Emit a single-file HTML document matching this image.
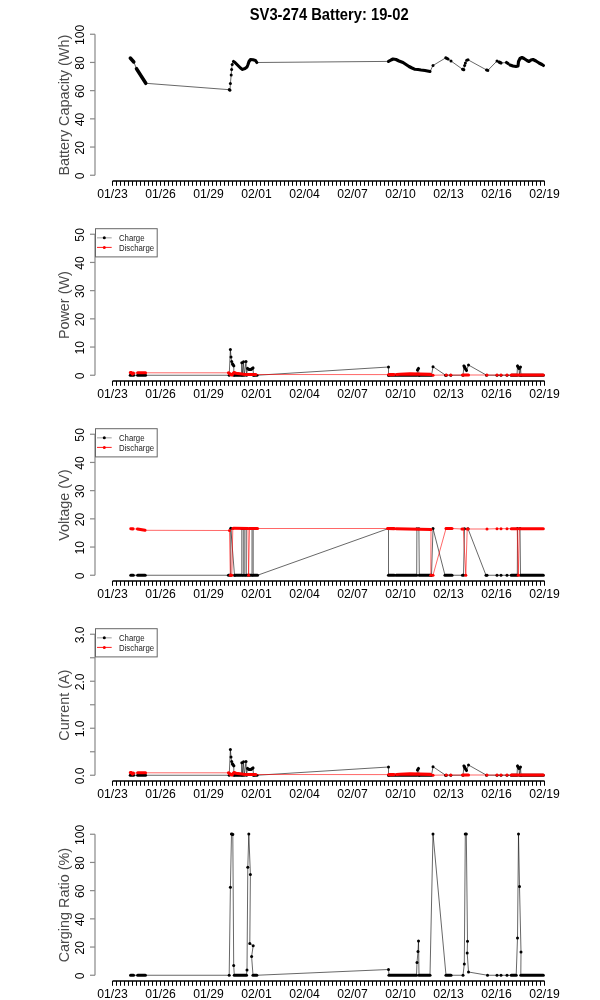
<!DOCTYPE html><html><head><meta charset="utf-8"><style>html,body{margin:0;padding:0;background:#fff;width:600px;height:1000px;overflow:hidden}svg{display:block;will-change:transform}text{font-family:"Liberation Sans",sans-serif}</style></head><body><svg width="600" height="1000" viewBox="0 0 600 1000">
<text transform="translate(329.2 20.0) scale(1 1.07)" text-anchor="middle" font-family="Liberation Sans" font-weight="bold" font-size="14.75" fill="#000">SV3-274 Battery: 19-02</text>
<path d="M95 175.25 V34.25" stroke="#888" stroke-width="1.2" fill="none"/>
<path d="M90 175.25 H95" stroke="#888" stroke-width="1.2" fill="none"/>
<path d="M90 147.05 H95" stroke="#888" stroke-width="1.2" fill="none"/>
<path d="M90 118.85 H95" stroke="#888" stroke-width="1.2" fill="none"/>
<path d="M90 90.65 H95" stroke="#888" stroke-width="1.2" fill="none"/>
<path d="M90 62.45 H95" stroke="#888" stroke-width="1.2" fill="none"/>
<path d="M90 34.25 H95" stroke="#888" stroke-width="1.2" fill="none"/>
<text transform="translate(84.2 175.85) rotate(-90)" text-anchor="middle" font-family="Liberation Sans" font-size="12.2" fill="#000">0</text>
<text transform="translate(84.2 147.65) rotate(-90)" text-anchor="middle" font-family="Liberation Sans" font-size="12.2" fill="#000">20</text>
<text transform="translate(84.2 119.45) rotate(-90)" text-anchor="middle" font-family="Liberation Sans" font-size="12.2" fill="#000">40</text>
<text transform="translate(84.2 91.25) rotate(-90)" text-anchor="middle" font-family="Liberation Sans" font-size="12.2" fill="#000">60</text>
<text transform="translate(84.2 63.05) rotate(-90)" text-anchor="middle" font-family="Liberation Sans" font-size="12.2" fill="#000">80</text>
<text transform="translate(84.2 34.85) rotate(-90)" text-anchor="middle" font-family="Liberation Sans" font-size="12.2" fill="#000">100</text>
<text transform="translate(68.8 105.15) rotate(-90) scale(1 1.08)" text-anchor="middle" font-family="Liberation Sans" font-size="14.4" fill="#4a4a4a">Battery Capacity (Wh)</text>
<path d="M112.5 181 H544.5" stroke="#000" stroke-width="1.5" fill="none"/>
<path d="M112.5 181 V185.8M116.5 181 V185.8M120.5 181 V185.8M124.5 181 V185.8M128.5 181 V185.8M132.5 181 V185.8M136.5 181 V185.8M140.5 181 V185.8M144.5 181 V185.8M148.5 181 V185.8M152.5 181 V185.8M156.5 181 V185.8M160.5 181 V185.8M164.5 181 V185.8M168.5 181 V185.8M172.5 181 V185.8M176.5 181 V185.8M180.5 181 V185.8M184.5 181 V185.8M188.5 181 V185.8M192.5 181 V185.8M196.5 181 V185.8M200.5 181 V185.8M204.5 181 V185.8M208.5 181 V185.8M212.5 181 V185.8M216.5 181 V185.8M220.5 181 V185.8M224.5 181 V185.8M228.5 181 V185.8M232.5 181 V185.8M236.5 181 V185.8M240.5 181 V185.8M244.5 181 V185.8M248.5 181 V185.8M252.5 181 V185.8M256.5 181 V185.8M260.5 181 V185.8M264.5 181 V185.8M268.5 181 V185.8M272.5 181 V185.8M276.5 181 V185.8M280.5 181 V185.8M284.5 181 V185.8M288.5 181 V185.8M292.5 181 V185.8M296.5 181 V185.8M300.5 181 V185.8M304.5 181 V185.8M308.5 181 V185.8M312.5 181 V185.8M316.5 181 V185.8M320.5 181 V185.8M324.5 181 V185.8M328.5 181 V185.8M332.5 181 V185.8M336.5 181 V185.8M340.5 181 V185.8M344.5 181 V185.8M348.5 181 V185.8M352.5 181 V185.8M356.5 181 V185.8M360.5 181 V185.8M364.5 181 V185.8M368.5 181 V185.8M372.5 181 V185.8M376.5 181 V185.8M380.5 181 V185.8M384.5 181 V185.8M388.5 181 V185.8M392.5 181 V185.8M396.5 181 V185.8M400.5 181 V185.8M404.5 181 V185.8M408.5 181 V185.8M412.5 181 V185.8M416.5 181 V185.8M420.5 181 V185.8M424.5 181 V185.8M428.5 181 V185.8M432.5 181 V185.8M436.5 181 V185.8M440.5 181 V185.8M444.5 181 V185.8M448.5 181 V185.8M452.5 181 V185.8M456.5 181 V185.8M460.5 181 V185.8M464.5 181 V185.8M468.5 181 V185.8M472.5 181 V185.8M476.5 181 V185.8M480.5 181 V185.8M484.5 181 V185.8M488.5 181 V185.8M492.5 181 V185.8M496.5 181 V185.8M500.5 181 V185.8M504.5 181 V185.8M508.5 181 V185.8M512.5 181 V185.8M516.5 181 V185.8M520.5 181 V185.8M524.5 181 V185.8M528.5 181 V185.8M532.5 181 V185.8M536.5 181 V185.8M540.5 181 V185.8M544.5 181 V185.8" stroke="#000" stroke-width="1" fill="none"/>
<text x="112.5" y="198" text-anchor="middle" font-family="Liberation Sans" font-size="12.2" fill="#000">01/23</text>
<text x="160.5" y="198" text-anchor="middle" font-family="Liberation Sans" font-size="12.2" fill="#000">01/26</text>
<text x="208.5" y="198" text-anchor="middle" font-family="Liberation Sans" font-size="12.2" fill="#000">01/29</text>
<text x="256.5" y="198" text-anchor="middle" font-family="Liberation Sans" font-size="12.2" fill="#000">02/01</text>
<text x="304.5" y="198" text-anchor="middle" font-family="Liberation Sans" font-size="12.2" fill="#000">02/04</text>
<text x="352.5" y="198" text-anchor="middle" font-family="Liberation Sans" font-size="12.2" fill="#000">02/07</text>
<text x="400.5" y="198" text-anchor="middle" font-family="Liberation Sans" font-size="12.2" fill="#000">02/10</text>
<text x="448.5" y="198" text-anchor="middle" font-family="Liberation Sans" font-size="12.2" fill="#000">02/13</text>
<text x="496.5" y="198" text-anchor="middle" font-family="Liberation Sans" font-size="12.2" fill="#000">02/16</text>
<text x="544.5" y="198" text-anchor="middle" font-family="Liberation Sans" font-size="12.2" fill="#000">02/19</text>
<path d="M130.30 58.00 L133.80 62.00 L136.50 68.70 L145.80 83.30 L229.30 89.70 L230.00 90.20 L230.40 83.60 L231.20 74.90 L231.60 69.50 L232.20 64.60 L233.50 61.50 L235.00 62.50 L238.00 65.50 L240.50 68.00 L242.50 69.40 L245.00 68.50 L247.00 67.00 L248.00 64.50 L249.00 61.50 L250.50 59.50 L253.00 59.80 L255.50 60.50 L256.80 62.50 L388.50 61.40 L391.00 60.00 L393.00 59.00 L396.00 59.50 L399.00 61.00 L403.00 62.50 L406.00 64.50 L409.00 66.50 L412.00 68.00 L415.00 69.30 L418.00 69.50 L421.00 70.00 L425.00 70.50 L430.00 71.50 L433.00 65.50 L445.80 57.80 L448.00 59.00 L451.00 61.00 L462.60 69.30 L463.80 69.70 L464.60 65.40 L465.40 62.90 L466.70 60.20 L468.00 59.80 L486.60 70.00 L487.80 70.40 L497.00 61.00 L499.00 62.00 L501.00 63.00 L506.50 62.50 L508.00 63.50 L510.00 65.00 L513.00 66.00 L516.00 66.50 L518.00 66.00 L518.50 61.50 L520.00 58.50 L522.00 57.50 L524.00 58.50 L527.00 60.50 L529.00 61.50 L531.00 60.00 L533.00 59.50 L536.00 61.00 L539.00 63.00 L542.00 64.50 L543.50 65.50" stroke="#000" stroke-width="0.6" fill="none"/>
<path d="M130.30 58.00 L133.80 62.00" stroke="#000" stroke-width="3.5" stroke-linecap="round" stroke-linejoin="round" fill="none"/>
<path d="M136.50 68.70 L145.80 83.30" stroke="#000" stroke-width="3.5" stroke-linecap="round" stroke-linejoin="round" fill="none"/>
<path d="M229.30 89.70 L230.00 90.20" stroke="#000" stroke-width="3.1" stroke-linecap="round" stroke-linejoin="round" fill="none"/>
<path d="M233.50 61.50 L235.00 62.50 L238.00 65.50 L240.50 68.00 L242.50 69.40 L245.00 68.50 L247.00 67.00 L248.00 64.50 L249.00 61.50 L250.50 59.50 L253.00 59.80 L255.50 60.50 L256.80 62.50" stroke="#000" stroke-width="3.1" stroke-linecap="round" stroke-linejoin="round" fill="none"/>
<path d="M388.50 61.40 L391.00 60.00 L393.00 59.00 L396.00 59.50 L399.00 61.00 L403.00 62.50 L406.00 64.50 L409.00 66.50 L412.00 68.00 L415.00 69.30 L418.00 69.50 L421.00 70.00 L425.00 70.50 L430.00 71.50" stroke="#000" stroke-width="3.1" stroke-linecap="round" stroke-linejoin="round" fill="none"/>
<path d="M445.80 57.80 L448.00 59.00" stroke="#000" stroke-width="3.1" stroke-linecap="round" stroke-linejoin="round" fill="none"/>
<path d="M462.60 69.30 L463.80 69.70" stroke="#000" stroke-width="3.1" stroke-linecap="round" stroke-linejoin="round" fill="none"/>
<path d="M486.60 70.00 L487.80 70.40" stroke="#000" stroke-width="3.1" stroke-linecap="round" stroke-linejoin="round" fill="none"/>
<path d="M499.00 62.00 L501.00 63.00" stroke="#000" stroke-width="3.1" stroke-linecap="round" stroke-linejoin="round" fill="none"/>
<path d="M506.50 62.50 L508.00 63.50" stroke="#000" stroke-width="3.1" stroke-linecap="round" stroke-linejoin="round" fill="none"/>
<path d="M510.00 65.00 L513.00 66.00 L516.00 66.50 L518.00 66.00 L518.50 61.50 L520.00 58.50 L522.00 57.50 L524.00 58.50 L527.00 60.50 L529.00 61.50 L531.00 60.00 L533.00 59.50 L536.00 61.00 L539.00 63.00 L542.00 64.50 L543.50 65.50" stroke="#000" stroke-width="3.1" stroke-linecap="round" stroke-linejoin="round" fill="none"/>
<circle cx="230.40" cy="83.60" r="1.5" fill="#000"/><circle cx="231.20" cy="74.90" r="1.5" fill="#000"/><circle cx="231.60" cy="69.50" r="1.5" fill="#000"/><circle cx="232.20" cy="64.60" r="1.5" fill="#000"/><circle cx="433.00" cy="65.50" r="1.5" fill="#000"/><circle cx="451.00" cy="61.00" r="1.5" fill="#000"/><circle cx="464.60" cy="65.40" r="1.5" fill="#000"/><circle cx="465.40" cy="62.90" r="1.5" fill="#000"/><circle cx="466.70" cy="60.20" r="1.5" fill="#000"/><circle cx="468.00" cy="59.80" r="1.5" fill="#000"/><circle cx="497.00" cy="61.00" r="1.5" fill="#000"/>
<path d="M95 375.25 V234.25" stroke="#888" stroke-width="1.2" fill="none"/>
<path d="M90 375.25 H95" stroke="#888" stroke-width="1.2" fill="none"/>
<path d="M90 347.05 H95" stroke="#888" stroke-width="1.2" fill="none"/>
<path d="M90 318.85 H95" stroke="#888" stroke-width="1.2" fill="none"/>
<path d="M90 290.65 H95" stroke="#888" stroke-width="1.2" fill="none"/>
<path d="M90 262.45 H95" stroke="#888" stroke-width="1.2" fill="none"/>
<path d="M90 234.25 H95" stroke="#888" stroke-width="1.2" fill="none"/>
<text transform="translate(84.2 375.85) rotate(-90)" text-anchor="middle" font-family="Liberation Sans" font-size="12.2" fill="#000">0</text>
<text transform="translate(84.2 347.65) rotate(-90)" text-anchor="middle" font-family="Liberation Sans" font-size="12.2" fill="#000">10</text>
<text transform="translate(84.2 319.45) rotate(-90)" text-anchor="middle" font-family="Liberation Sans" font-size="12.2" fill="#000">20</text>
<text transform="translate(84.2 291.25) rotate(-90)" text-anchor="middle" font-family="Liberation Sans" font-size="12.2" fill="#000">30</text>
<text transform="translate(84.2 263.05) rotate(-90)" text-anchor="middle" font-family="Liberation Sans" font-size="12.2" fill="#000">40</text>
<text transform="translate(84.2 234.85) rotate(-90)" text-anchor="middle" font-family="Liberation Sans" font-size="12.2" fill="#000">50</text>
<text transform="translate(68.8 305.15) rotate(-90) scale(1 1.08)" text-anchor="middle" font-family="Liberation Sans" font-size="14.4" fill="#4a4a4a">Power (W)</text>
<path d="M112.5 381 H544.5" stroke="#000" stroke-width="1.5" fill="none"/>
<path d="M112.5 381 V385.8M116.5 381 V385.8M120.5 381 V385.8M124.5 381 V385.8M128.5 381 V385.8M132.5 381 V385.8M136.5 381 V385.8M140.5 381 V385.8M144.5 381 V385.8M148.5 381 V385.8M152.5 381 V385.8M156.5 381 V385.8M160.5 381 V385.8M164.5 381 V385.8M168.5 381 V385.8M172.5 381 V385.8M176.5 381 V385.8M180.5 381 V385.8M184.5 381 V385.8M188.5 381 V385.8M192.5 381 V385.8M196.5 381 V385.8M200.5 381 V385.8M204.5 381 V385.8M208.5 381 V385.8M212.5 381 V385.8M216.5 381 V385.8M220.5 381 V385.8M224.5 381 V385.8M228.5 381 V385.8M232.5 381 V385.8M236.5 381 V385.8M240.5 381 V385.8M244.5 381 V385.8M248.5 381 V385.8M252.5 381 V385.8M256.5 381 V385.8M260.5 381 V385.8M264.5 381 V385.8M268.5 381 V385.8M272.5 381 V385.8M276.5 381 V385.8M280.5 381 V385.8M284.5 381 V385.8M288.5 381 V385.8M292.5 381 V385.8M296.5 381 V385.8M300.5 381 V385.8M304.5 381 V385.8M308.5 381 V385.8M312.5 381 V385.8M316.5 381 V385.8M320.5 381 V385.8M324.5 381 V385.8M328.5 381 V385.8M332.5 381 V385.8M336.5 381 V385.8M340.5 381 V385.8M344.5 381 V385.8M348.5 381 V385.8M352.5 381 V385.8M356.5 381 V385.8M360.5 381 V385.8M364.5 381 V385.8M368.5 381 V385.8M372.5 381 V385.8M376.5 381 V385.8M380.5 381 V385.8M384.5 381 V385.8M388.5 381 V385.8M392.5 381 V385.8M396.5 381 V385.8M400.5 381 V385.8M404.5 381 V385.8M408.5 381 V385.8M412.5 381 V385.8M416.5 381 V385.8M420.5 381 V385.8M424.5 381 V385.8M428.5 381 V385.8M432.5 381 V385.8M436.5 381 V385.8M440.5 381 V385.8M444.5 381 V385.8M448.5 381 V385.8M452.5 381 V385.8M456.5 381 V385.8M460.5 381 V385.8M464.5 381 V385.8M468.5 381 V385.8M472.5 381 V385.8M476.5 381 V385.8M480.5 381 V385.8M484.5 381 V385.8M488.5 381 V385.8M492.5 381 V385.8M496.5 381 V385.8M500.5 381 V385.8M504.5 381 V385.8M508.5 381 V385.8M512.5 381 V385.8M516.5 381 V385.8M520.5 381 V385.8M524.5 381 V385.8M528.5 381 V385.8M532.5 381 V385.8M536.5 381 V385.8M540.5 381 V385.8M544.5 381 V385.8" stroke="#000" stroke-width="1" fill="none"/>
<text x="112.5" y="398" text-anchor="middle" font-family="Liberation Sans" font-size="12.2" fill="#000">01/23</text>
<text x="160.5" y="398" text-anchor="middle" font-family="Liberation Sans" font-size="12.2" fill="#000">01/26</text>
<text x="208.5" y="398" text-anchor="middle" font-family="Liberation Sans" font-size="12.2" fill="#000">01/29</text>
<text x="256.5" y="398" text-anchor="middle" font-family="Liberation Sans" font-size="12.2" fill="#000">02/01</text>
<text x="304.5" y="398" text-anchor="middle" font-family="Liberation Sans" font-size="12.2" fill="#000">02/04</text>
<text x="352.5" y="398" text-anchor="middle" font-family="Liberation Sans" font-size="12.2" fill="#000">02/07</text>
<text x="400.5" y="398" text-anchor="middle" font-family="Liberation Sans" font-size="12.2" fill="#000">02/10</text>
<text x="448.5" y="398" text-anchor="middle" font-family="Liberation Sans" font-size="12.2" fill="#000">02/13</text>
<text x="496.5" y="398" text-anchor="middle" font-family="Liberation Sans" font-size="12.2" fill="#000">02/16</text>
<text x="544.5" y="398" text-anchor="middle" font-family="Liberation Sans" font-size="12.2" fill="#000">02/19</text>
<path d="M130.30 375.25 L133.50 375.25 L137.70 375.25 L145.50 375.25 L229.20 375.25 L230.40 349.40 L231.00 357.00 L231.70 361.50 L232.50 364.00 L233.80 365.80 L233.80 375.25 L235.00 375.25 L241.50 375.25 L241.80 362.80 L242.50 375.25 L243.50 361.80 L244.20 375.25 L246.00 361.50 L246.50 375.25 L247.50 368.50 L249.00 369.50 L251.00 369.50 L253.00 368.00 L253.50 375.25 L254.00 375.25 L257.00 375.25 L388.50 367.00 L388.50 375.25 L389.00 375.25 L417.00 375.25 L417.50 370.00 L418.50 368.50 L419.00 375.25 L419.50 375.25 L431.50 375.25 L433.00 366.70 L445.50 375.20 L446.30 375.25 L450.80 375.25 L463.00 375.25 L464.00 366.00 L465.00 368.00 L466.50 370.50 L468.50 365.00 L486.50 375.20 L497.00 375.25 L501.00 375.25 L507.00 375.25 L511.30 375.25 L517.00 375.25 L517.50 366.00 L519.00 368.50 L519.50 375.25 L520.50 367.00 L521.00 375.25 L521.50 375.25 L543.30 375.25" stroke="#000" stroke-width="0.6" fill="none"/>
<path d="M130.30 375.25 L133.50 375.25" stroke="#000" stroke-width="3.1" stroke-linecap="round" stroke-linejoin="round" fill="none"/>
<path d="M137.70 375.25 L145.50 375.25" stroke="#000" stroke-width="3.1" stroke-linecap="round" stroke-linejoin="round" fill="none"/>
<path d="M232.50 364.00 L233.80 365.80" stroke="#000" stroke-width="3.1" stroke-linecap="round" stroke-linejoin="round" fill="none"/>
<path d="M235.00 375.25 L241.50 375.25" stroke="#000" stroke-width="3.1" stroke-linecap="round" stroke-linejoin="round" fill="none"/>
<path d="M247.50 368.50 L249.00 369.50 L251.00 369.50 L253.00 368.00" stroke="#000" stroke-width="3.1" stroke-linecap="round" stroke-linejoin="round" fill="none"/>
<path d="M254.00 375.25 L257.00 375.25" stroke="#000" stroke-width="3.1" stroke-linecap="round" stroke-linejoin="round" fill="none"/>
<path d="M389.00 375.25 L417.00 375.25" stroke="#000" stroke-width="3.1" stroke-linecap="round" stroke-linejoin="round" fill="none"/>
<path d="M417.50 370.00 L418.50 368.50" stroke="#000" stroke-width="3.1" stroke-linecap="round" stroke-linejoin="round" fill="none"/>
<path d="M419.50 375.25 L431.50 375.25" stroke="#000" stroke-width="3.1" stroke-linecap="round" stroke-linejoin="round" fill="none"/>
<path d="M464.00 366.00 L465.00 368.00 L466.50 370.50" stroke="#000" stroke-width="3.1" stroke-linecap="round" stroke-linejoin="round" fill="none"/>
<path d="M511.30 375.25 L517.00 375.25" stroke="#000" stroke-width="3.1" stroke-linecap="round" stroke-linejoin="round" fill="none"/>
<path d="M517.50 366.00 L519.00 368.50" stroke="#000" stroke-width="3.1" stroke-linecap="round" stroke-linejoin="round" fill="none"/>
<path d="M521.50 375.25 L543.30 375.25" stroke="#000" stroke-width="3.1" stroke-linecap="round" stroke-linejoin="round" fill="none"/>
<circle cx="229.20" cy="375.25" r="1.5" fill="#000"/><circle cx="230.40" cy="349.40" r="1.5" fill="#000"/><circle cx="231.00" cy="357.00" r="1.5" fill="#000"/><circle cx="231.70" cy="361.50" r="1.5" fill="#000"/><circle cx="233.80" cy="375.25" r="1.5" fill="#000"/><circle cx="241.80" cy="362.80" r="1.5" fill="#000"/><circle cx="242.50" cy="375.25" r="1.5" fill="#000"/><circle cx="243.50" cy="361.80" r="1.5" fill="#000"/><circle cx="244.20" cy="375.25" r="1.5" fill="#000"/><circle cx="246.00" cy="361.50" r="1.5" fill="#000"/><circle cx="246.50" cy="375.25" r="1.5" fill="#000"/><circle cx="253.50" cy="375.25" r="1.5" fill="#000"/><circle cx="388.50" cy="367.00" r="1.5" fill="#000"/><circle cx="388.50" cy="375.25" r="1.5" fill="#000"/><circle cx="419.00" cy="375.25" r="1.5" fill="#000"/><circle cx="433.00" cy="366.70" r="1.5" fill="#000"/><circle cx="445.50" cy="375.20" r="1.5" fill="#000"/><circle cx="446.30" cy="375.25" r="1.5" fill="#000"/><circle cx="450.80" cy="375.25" r="1.5" fill="#000"/><circle cx="463.00" cy="375.25" r="1.5" fill="#000"/><circle cx="468.50" cy="365.00" r="1.5" fill="#000"/><circle cx="486.50" cy="375.20" r="1.5" fill="#000"/><circle cx="497.00" cy="375.25" r="1.5" fill="#000"/><circle cx="501.00" cy="375.25" r="1.5" fill="#000"/><circle cx="507.00" cy="375.25" r="1.5" fill="#000"/><circle cx="519.50" cy="375.25" r="1.5" fill="#000"/><circle cx="520.50" cy="367.00" r="1.5" fill="#000"/><circle cx="521.00" cy="375.25" r="1.5" fill="#000"/>
<path d="M130.30 372.60 L131.50 372.60 L132.50 374.00 L133.50 373.20 L137.70 372.80 L145.50 372.80 L228.50 372.80 L230.00 374.00 L232.00 375.00 L234.00 372.50 L236.00 373.20 L240.00 373.80 L245.00 374.50 L250.00 374.50 L255.70 374.50 L388.80 374.60 L394.00 374.60 L396.50 374.50 L400.00 374.30 L410.00 373.90 L420.00 374.10 L430.50 374.40 L433.00 375.20 L446.30 375.00 L450.80 375.00 L462.50 375.00 L468.50 375.00 L487.00 375.00 L497.00 375.00 L501.00 375.00 L507.00 375.00 L511.30 375.00 L543.30 375.00" stroke="#f00" stroke-width="0.6" fill="none"/>
<path d="M130.30 372.60 L131.50 372.60 L132.50 374.00 L133.50 373.20" stroke="#f00" stroke-width="3.1" stroke-linecap="round" stroke-linejoin="round" fill="none"/>
<path d="M137.70 372.80 L145.50 372.80" stroke="#f00" stroke-width="3.1" stroke-linecap="round" stroke-linejoin="round" fill="none"/>
<path d="M228.50 372.80 L230.00 374.00 L232.00 375.00 L234.00 372.50 L236.00 373.20 L240.00 373.80 L245.00 374.50 L250.00 374.50 L255.70 374.50" stroke="#f00" stroke-width="3.1" stroke-linecap="round" stroke-linejoin="round" fill="none"/>
<path d="M388.80 374.60 L394.00 374.60" stroke="#f00" stroke-width="3.1" stroke-linecap="round" stroke-linejoin="round" fill="none"/>
<path d="M396.50 374.50 L400.00 374.30 L410.00 373.90 L420.00 374.10 L430.50 374.40" stroke="#f00" stroke-width="3.1" stroke-linecap="round" stroke-linejoin="round" fill="none"/>
<path d="M462.50 375.00 L468.50 375.00" stroke="#f00" stroke-width="3.1" stroke-linecap="round" stroke-linejoin="round" fill="none"/>
<path d="M511.30 375.00 L543.30 375.00" stroke="#f00" stroke-width="3.1" stroke-linecap="round" stroke-linejoin="round" fill="none"/>
<circle cx="433.00" cy="375.20" r="1.5" fill="#f00"/><circle cx="446.30" cy="375.00" r="1.5" fill="#f00"/><circle cx="450.80" cy="375.00" r="1.5" fill="#f00"/><circle cx="487.00" cy="375.00" r="1.5" fill="#f00"/><circle cx="497.00" cy="375.00" r="1.5" fill="#f00"/><circle cx="501.00" cy="375.00" r="1.5" fill="#f00"/><circle cx="507.00" cy="375.00" r="1.5" fill="#f00"/>
<rect x="95.5" y="228.7" width="61.7" height="28.2" fill="#fff" stroke="#666" stroke-width="1"/>
<path d="M97 237.85 H111.7" stroke="#000" stroke-width="0.7" stroke-opacity="0.55" fill="none"/>
<circle cx="104.3" cy="237.85" r="1.5" fill="#000"/>
<path d="M97 247.4 H111.7" stroke="#f00" stroke-width="0.9" fill="none"/>
<circle cx="104.3" cy="247.4" r="1.5" fill="#f00"/>
<text transform="translate(119 240.9) scale(1 1.12)" font-family="Liberation Sans" font-size="7.8" fill="#222">Charge</text>
<text transform="translate(119 250.8) scale(1 1.12)" font-family="Liberation Sans" font-size="7.8" fill="#222">Discharge</text>
<path d="M95 575.25 V434.25" stroke="#888" stroke-width="1.2" fill="none"/>
<path d="M90 575.25 H95" stroke="#888" stroke-width="1.2" fill="none"/>
<path d="M90 547.05 H95" stroke="#888" stroke-width="1.2" fill="none"/>
<path d="M90 518.85 H95" stroke="#888" stroke-width="1.2" fill="none"/>
<path d="M90 490.65 H95" stroke="#888" stroke-width="1.2" fill="none"/>
<path d="M90 462.45 H95" stroke="#888" stroke-width="1.2" fill="none"/>
<path d="M90 434.25 H95" stroke="#888" stroke-width="1.2" fill="none"/>
<text transform="translate(84.2 575.85) rotate(-90)" text-anchor="middle" font-family="Liberation Sans" font-size="12.2" fill="#000">0</text>
<text transform="translate(84.2 547.65) rotate(-90)" text-anchor="middle" font-family="Liberation Sans" font-size="12.2" fill="#000">10</text>
<text transform="translate(84.2 519.45) rotate(-90)" text-anchor="middle" font-family="Liberation Sans" font-size="12.2" fill="#000">20</text>
<text transform="translate(84.2 491.25) rotate(-90)" text-anchor="middle" font-family="Liberation Sans" font-size="12.2" fill="#000">30</text>
<text transform="translate(84.2 463.05) rotate(-90)" text-anchor="middle" font-family="Liberation Sans" font-size="12.2" fill="#000">40</text>
<text transform="translate(84.2 434.85) rotate(-90)" text-anchor="middle" font-family="Liberation Sans" font-size="12.2" fill="#000">50</text>
<text transform="translate(68.8 505.15) rotate(-90) scale(1 1.08)" text-anchor="middle" font-family="Liberation Sans" font-size="14.4" fill="#4a4a4a">Voltage (V)</text>
<path d="M112.5 581 H544.5" stroke="#000" stroke-width="1.5" fill="none"/>
<path d="M112.5 581 V585.8M116.5 581 V585.8M120.5 581 V585.8M124.5 581 V585.8M128.5 581 V585.8M132.5 581 V585.8M136.5 581 V585.8M140.5 581 V585.8M144.5 581 V585.8M148.5 581 V585.8M152.5 581 V585.8M156.5 581 V585.8M160.5 581 V585.8M164.5 581 V585.8M168.5 581 V585.8M172.5 581 V585.8M176.5 581 V585.8M180.5 581 V585.8M184.5 581 V585.8M188.5 581 V585.8M192.5 581 V585.8M196.5 581 V585.8M200.5 581 V585.8M204.5 581 V585.8M208.5 581 V585.8M212.5 581 V585.8M216.5 581 V585.8M220.5 581 V585.8M224.5 581 V585.8M228.5 581 V585.8M232.5 581 V585.8M236.5 581 V585.8M240.5 581 V585.8M244.5 581 V585.8M248.5 581 V585.8M252.5 581 V585.8M256.5 581 V585.8M260.5 581 V585.8M264.5 581 V585.8M268.5 581 V585.8M272.5 581 V585.8M276.5 581 V585.8M280.5 581 V585.8M284.5 581 V585.8M288.5 581 V585.8M292.5 581 V585.8M296.5 581 V585.8M300.5 581 V585.8M304.5 581 V585.8M308.5 581 V585.8M312.5 581 V585.8M316.5 581 V585.8M320.5 581 V585.8M324.5 581 V585.8M328.5 581 V585.8M332.5 581 V585.8M336.5 581 V585.8M340.5 581 V585.8M344.5 581 V585.8M348.5 581 V585.8M352.5 581 V585.8M356.5 581 V585.8M360.5 581 V585.8M364.5 581 V585.8M368.5 581 V585.8M372.5 581 V585.8M376.5 581 V585.8M380.5 581 V585.8M384.5 581 V585.8M388.5 581 V585.8M392.5 581 V585.8M396.5 581 V585.8M400.5 581 V585.8M404.5 581 V585.8M408.5 581 V585.8M412.5 581 V585.8M416.5 581 V585.8M420.5 581 V585.8M424.5 581 V585.8M428.5 581 V585.8M432.5 581 V585.8M436.5 581 V585.8M440.5 581 V585.8M444.5 581 V585.8M448.5 581 V585.8M452.5 581 V585.8M456.5 581 V585.8M460.5 581 V585.8M464.5 581 V585.8M468.5 581 V585.8M472.5 581 V585.8M476.5 581 V585.8M480.5 581 V585.8M484.5 581 V585.8M488.5 581 V585.8M492.5 581 V585.8M496.5 581 V585.8M500.5 581 V585.8M504.5 581 V585.8M508.5 581 V585.8M512.5 581 V585.8M516.5 581 V585.8M520.5 581 V585.8M524.5 581 V585.8M528.5 581 V585.8M532.5 581 V585.8M536.5 581 V585.8M540.5 581 V585.8M544.5 581 V585.8" stroke="#000" stroke-width="1" fill="none"/>
<text x="112.5" y="598" text-anchor="middle" font-family="Liberation Sans" font-size="12.2" fill="#000">01/23</text>
<text x="160.5" y="598" text-anchor="middle" font-family="Liberation Sans" font-size="12.2" fill="#000">01/26</text>
<text x="208.5" y="598" text-anchor="middle" font-family="Liberation Sans" font-size="12.2" fill="#000">01/29</text>
<text x="256.5" y="598" text-anchor="middle" font-family="Liberation Sans" font-size="12.2" fill="#000">02/01</text>
<text x="304.5" y="598" text-anchor="middle" font-family="Liberation Sans" font-size="12.2" fill="#000">02/04</text>
<text x="352.5" y="598" text-anchor="middle" font-family="Liberation Sans" font-size="12.2" fill="#000">02/07</text>
<text x="400.5" y="598" text-anchor="middle" font-family="Liberation Sans" font-size="12.2" fill="#000">02/10</text>
<text x="448.5" y="598" text-anchor="middle" font-family="Liberation Sans" font-size="12.2" fill="#000">02/13</text>
<text x="496.5" y="598" text-anchor="middle" font-family="Liberation Sans" font-size="12.2" fill="#000">02/16</text>
<text x="544.5" y="598" text-anchor="middle" font-family="Liberation Sans" font-size="12.2" fill="#000">02/19</text>
<path d="M130.80 575.25 L133.30 575.25 L137.70 575.25 L145.20 575.25 L228.50 575.25 L230.70 575.25 L230.80 528.30 L234.50 575.25 L235.00 575.25 L241.80 575.25 L241.80 528.50 L243.30 528.50 L243.30 575.25 L244.80 575.25 L244.80 528.50 L246.30 528.50 L246.30 575.25 L252.00 575.25 L252.00 528.50 L253.20 528.50 L253.20 575.25 L257.50 575.25 L388.50 528.50 L388.50 575.25 L394.30 575.25 L396.20 575.25 L416.70 575.25 L416.90 528.80 L418.90 528.80 L419.30 575.25 L431.00 575.25 L431.50 575.25 L433.00 528.50 L445.00 575.25 L452.00 575.25 L462.50 575.25 L463.50 575.25 L464.50 528.80 L468.00 528.80 L486.00 575.25 L487.00 575.25 L497.00 575.25 L501.00 575.25 L507.00 575.25 L511.30 575.25 L517.30 575.25 L517.50 528.50 L520.00 528.50 L520.50 575.25 L543.30 575.25" stroke="#000" stroke-width="0.6" fill="none"/>
<path d="M130.80 575.25 L133.30 575.25" stroke="#000" stroke-width="3.1" stroke-linecap="round" stroke-linejoin="round" fill="none"/>
<path d="M137.70 575.25 L145.20 575.25" stroke="#000" stroke-width="3.1" stroke-linecap="round" stroke-linejoin="round" fill="none"/>
<path d="M228.50 575.25 L230.70 575.25" stroke="#000" stroke-width="3.1" stroke-linecap="round" stroke-linejoin="round" fill="none"/>
<path d="M235.00 575.25 L241.80 575.25" stroke="#000" stroke-width="3.1" stroke-linecap="round" stroke-linejoin="round" fill="none"/>
<path d="M246.30 575.25 L252.00 575.25" stroke="#000" stroke-width="3.1" stroke-linecap="round" stroke-linejoin="round" fill="none"/>
<path d="M253.20 575.25 L257.50 575.25" stroke="#000" stroke-width="3.1" stroke-linecap="round" stroke-linejoin="round" fill="none"/>
<path d="M388.50 575.25 L394.30 575.25" stroke="#000" stroke-width="3.1" stroke-linecap="round" stroke-linejoin="round" fill="none"/>
<path d="M396.20 575.25 L416.70 575.25" stroke="#000" stroke-width="3.1" stroke-linecap="round" stroke-linejoin="round" fill="none"/>
<path d="M419.30 575.25 L431.00 575.25" stroke="#000" stroke-width="3.1" stroke-linecap="round" stroke-linejoin="round" fill="none"/>
<path d="M445.00 575.25 L452.00 575.25" stroke="#000" stroke-width="3.1" stroke-linecap="round" stroke-linejoin="round" fill="none"/>
<path d="M462.50 575.25 L463.50 575.25" stroke="#000" stroke-width="3.1" stroke-linecap="round" stroke-linejoin="round" fill="none"/>
<path d="M511.30 575.25 L517.30 575.25" stroke="#000" stroke-width="3.1" stroke-linecap="round" stroke-linejoin="round" fill="none"/>
<path d="M520.50 575.25 L543.30 575.25" stroke="#000" stroke-width="3.1" stroke-linecap="round" stroke-linejoin="round" fill="none"/>
<circle cx="230.80" cy="528.30" r="1.5" fill="#000"/><circle cx="234.50" cy="575.25" r="1.5" fill="#000"/><circle cx="241.80" cy="528.50" r="1.5" fill="#000"/><circle cx="243.30" cy="528.50" r="1.5" fill="#000"/><circle cx="243.30" cy="575.25" r="1.5" fill="#000"/><circle cx="244.80" cy="575.25" r="1.5" fill="#000"/><circle cx="244.80" cy="528.50" r="1.5" fill="#000"/><circle cx="246.30" cy="528.50" r="1.5" fill="#000"/><circle cx="252.00" cy="528.50" r="1.5" fill="#000"/><circle cx="253.20" cy="528.50" r="1.5" fill="#000"/><circle cx="388.50" cy="528.50" r="1.5" fill="#000"/><circle cx="416.90" cy="528.80" r="1.5" fill="#000"/><circle cx="418.90" cy="528.80" r="1.5" fill="#000"/><circle cx="431.50" cy="575.25" r="1.5" fill="#000"/><circle cx="433.00" cy="528.50" r="1.5" fill="#000"/><circle cx="464.50" cy="528.80" r="1.5" fill="#000"/><circle cx="468.00" cy="528.80" r="1.5" fill="#000"/><circle cx="486.00" cy="575.25" r="1.5" fill="#000"/><circle cx="487.00" cy="575.25" r="1.5" fill="#000"/><circle cx="497.00" cy="575.25" r="1.5" fill="#000"/><circle cx="501.00" cy="575.25" r="1.5" fill="#000"/><circle cx="507.00" cy="575.25" r="1.5" fill="#000"/><circle cx="517.50" cy="528.50" r="1.5" fill="#000"/><circle cx="520.00" cy="528.50" r="1.5" fill="#000"/>
<path d="M130.80 528.70 L133.00 528.90 L137.50 529.00 L145.00 530.30 L229.50 530.50 L230.30 575.25 L231.00 575.25 L231.80 575.25 L232.80 528.50 L233.50 528.30 L248.00 528.50 L248.60 575.25 L249.50 528.50 L250.00 528.50 L257.50 528.50 L387.50 528.50 L394.30 528.60 L396.20 528.70 L431.00 529.50 L430.80 575.25 L433.00 575.25 L446.00 528.50 L446.50 528.50 L452.00 528.50 L462.00 529.00 L463.30 529.00 L465.80 575.25 L467.20 529.00 L468.00 529.00 L487.00 529.00 L497.00 528.70 L501.00 528.70 L507.00 528.70 L511.30 528.70 L517.20 528.70 L518.30 575.25 L519.30 528.70 L519.80 528.70 L543.30 528.70" stroke="#f00" stroke-width="0.6" fill="none"/>
<path d="M130.80 528.70 L133.00 528.90" stroke="#f00" stroke-width="3.1" stroke-linecap="round" stroke-linejoin="round" fill="none"/>
<path d="M137.50 529.00 L145.00 530.30" stroke="#f00" stroke-width="3.1" stroke-linecap="round" stroke-linejoin="round" fill="none"/>
<path d="M231.00 575.25 L231.80 575.25" stroke="#f00" stroke-width="3.1" stroke-linecap="round" stroke-linejoin="round" fill="none"/>
<path d="M233.50 528.30 L248.00 528.50" stroke="#f00" stroke-width="3.1" stroke-linecap="round" stroke-linejoin="round" fill="none"/>
<path d="M250.00 528.50 L257.50 528.50" stroke="#f00" stroke-width="3.1" stroke-linecap="round" stroke-linejoin="round" fill="none"/>
<path d="M387.50 528.50 L394.30 528.60" stroke="#f00" stroke-width="3.1" stroke-linecap="round" stroke-linejoin="round" fill="none"/>
<path d="M396.20 528.70 L431.00 529.50" stroke="#f00" stroke-width="3.1" stroke-linecap="round" stroke-linejoin="round" fill="none"/>
<path d="M446.50 528.50 L452.00 528.50" stroke="#f00" stroke-width="3.1" stroke-linecap="round" stroke-linejoin="round" fill="none"/>
<path d="M462.00 529.00 L463.30 529.00" stroke="#f00" stroke-width="3.1" stroke-linecap="round" stroke-linejoin="round" fill="none"/>
<path d="M467.20 529.00 L468.00 529.00" stroke="#f00" stroke-width="3.1" stroke-linecap="round" stroke-linejoin="round" fill="none"/>
<path d="M511.30 528.70 L517.20 528.70" stroke="#f00" stroke-width="3.1" stroke-linecap="round" stroke-linejoin="round" fill="none"/>
<path d="M519.80 528.70 L543.30 528.70" stroke="#f00" stroke-width="3.1" stroke-linecap="round" stroke-linejoin="round" fill="none"/>
<circle cx="229.50" cy="530.50" r="1.5" fill="#f00"/><circle cx="230.30" cy="575.25" r="1.5" fill="#f00"/><circle cx="232.80" cy="528.50" r="1.5" fill="#f00"/><circle cx="248.60" cy="575.25" r="1.5" fill="#f00"/><circle cx="249.50" cy="528.50" r="1.5" fill="#f00"/><circle cx="430.80" cy="575.25" r="1.5" fill="#f00"/><circle cx="433.00" cy="575.25" r="1.5" fill="#f00"/><circle cx="446.00" cy="528.50" r="1.5" fill="#f00"/><circle cx="465.80" cy="575.25" r="1.5" fill="#f00"/><circle cx="487.00" cy="529.00" r="1.5" fill="#f00"/><circle cx="497.00" cy="528.70" r="1.5" fill="#f00"/><circle cx="501.00" cy="528.70" r="1.5" fill="#f00"/><circle cx="507.00" cy="528.70" r="1.5" fill="#f00"/><circle cx="518.30" cy="575.25" r="1.5" fill="#f00"/><circle cx="519.30" cy="528.70" r="1.5" fill="#f00"/>
<rect x="95.5" y="428.7" width="61.7" height="28.2" fill="#fff" stroke="#666" stroke-width="1"/>
<path d="M97 437.85 H111.7" stroke="#000" stroke-width="0.7" stroke-opacity="0.55" fill="none"/>
<circle cx="104.3" cy="437.85" r="1.5" fill="#000"/>
<path d="M97 447.4 H111.7" stroke="#f00" stroke-width="0.9" fill="none"/>
<circle cx="104.3" cy="447.4" r="1.5" fill="#f00"/>
<text transform="translate(119 440.9) scale(1 1.12)" font-family="Liberation Sans" font-size="7.8" fill="#222">Charge</text>
<text transform="translate(119 450.8) scale(1 1.12)" font-family="Liberation Sans" font-size="7.8" fill="#222">Discharge</text>
<path d="M95 775.25 V634.25" stroke="#888" stroke-width="1.2" fill="none"/>
<path d="M90 775.25 H95" stroke="#888" stroke-width="1.2" fill="none"/>
<path d="M90 751.75 H95" stroke="#888" stroke-width="1.2" fill="none"/>
<path d="M90 728.25 H95" stroke="#888" stroke-width="1.2" fill="none"/>
<path d="M90 704.75 H95" stroke="#888" stroke-width="1.2" fill="none"/>
<path d="M90 681.25 H95" stroke="#888" stroke-width="1.2" fill="none"/>
<path d="M90 657.75 H95" stroke="#888" stroke-width="1.2" fill="none"/>
<path d="M90 634.25 H95" stroke="#888" stroke-width="1.2" fill="none"/>
<text transform="translate(84.2 775.85) rotate(-90)" text-anchor="middle" font-family="Liberation Sans" font-size="12.2" fill="#000">0.0</text>
<text transform="translate(84.2 728.85) rotate(-90)" text-anchor="middle" font-family="Liberation Sans" font-size="12.2" fill="#000">1.0</text>
<text transform="translate(84.2 681.85) rotate(-90)" text-anchor="middle" font-family="Liberation Sans" font-size="12.2" fill="#000">2.0</text>
<text transform="translate(84.2 634.85) rotate(-90)" text-anchor="middle" font-family="Liberation Sans" font-size="12.2" fill="#000">3.0</text>
<text transform="translate(68.8 705.15) rotate(-90) scale(1 1.08)" text-anchor="middle" font-family="Liberation Sans" font-size="14.4" fill="#4a4a4a">Current (A)</text>
<path d="M112.5 781 H544.5" stroke="#000" stroke-width="1.5" fill="none"/>
<path d="M112.5 781 V785.8M116.5 781 V785.8M120.5 781 V785.8M124.5 781 V785.8M128.5 781 V785.8M132.5 781 V785.8M136.5 781 V785.8M140.5 781 V785.8M144.5 781 V785.8M148.5 781 V785.8M152.5 781 V785.8M156.5 781 V785.8M160.5 781 V785.8M164.5 781 V785.8M168.5 781 V785.8M172.5 781 V785.8M176.5 781 V785.8M180.5 781 V785.8M184.5 781 V785.8M188.5 781 V785.8M192.5 781 V785.8M196.5 781 V785.8M200.5 781 V785.8M204.5 781 V785.8M208.5 781 V785.8M212.5 781 V785.8M216.5 781 V785.8M220.5 781 V785.8M224.5 781 V785.8M228.5 781 V785.8M232.5 781 V785.8M236.5 781 V785.8M240.5 781 V785.8M244.5 781 V785.8M248.5 781 V785.8M252.5 781 V785.8M256.5 781 V785.8M260.5 781 V785.8M264.5 781 V785.8M268.5 781 V785.8M272.5 781 V785.8M276.5 781 V785.8M280.5 781 V785.8M284.5 781 V785.8M288.5 781 V785.8M292.5 781 V785.8M296.5 781 V785.8M300.5 781 V785.8M304.5 781 V785.8M308.5 781 V785.8M312.5 781 V785.8M316.5 781 V785.8M320.5 781 V785.8M324.5 781 V785.8M328.5 781 V785.8M332.5 781 V785.8M336.5 781 V785.8M340.5 781 V785.8M344.5 781 V785.8M348.5 781 V785.8M352.5 781 V785.8M356.5 781 V785.8M360.5 781 V785.8M364.5 781 V785.8M368.5 781 V785.8M372.5 781 V785.8M376.5 781 V785.8M380.5 781 V785.8M384.5 781 V785.8M388.5 781 V785.8M392.5 781 V785.8M396.5 781 V785.8M400.5 781 V785.8M404.5 781 V785.8M408.5 781 V785.8M412.5 781 V785.8M416.5 781 V785.8M420.5 781 V785.8M424.5 781 V785.8M428.5 781 V785.8M432.5 781 V785.8M436.5 781 V785.8M440.5 781 V785.8M444.5 781 V785.8M448.5 781 V785.8M452.5 781 V785.8M456.5 781 V785.8M460.5 781 V785.8M464.5 781 V785.8M468.5 781 V785.8M472.5 781 V785.8M476.5 781 V785.8M480.5 781 V785.8M484.5 781 V785.8M488.5 781 V785.8M492.5 781 V785.8M496.5 781 V785.8M500.5 781 V785.8M504.5 781 V785.8M508.5 781 V785.8M512.5 781 V785.8M516.5 781 V785.8M520.5 781 V785.8M524.5 781 V785.8M528.5 781 V785.8M532.5 781 V785.8M536.5 781 V785.8M540.5 781 V785.8M544.5 781 V785.8" stroke="#000" stroke-width="1" fill="none"/>
<text x="112.5" y="798" text-anchor="middle" font-family="Liberation Sans" font-size="12.2" fill="#000">01/23</text>
<text x="160.5" y="798" text-anchor="middle" font-family="Liberation Sans" font-size="12.2" fill="#000">01/26</text>
<text x="208.5" y="798" text-anchor="middle" font-family="Liberation Sans" font-size="12.2" fill="#000">01/29</text>
<text x="256.5" y="798" text-anchor="middle" font-family="Liberation Sans" font-size="12.2" fill="#000">02/01</text>
<text x="304.5" y="798" text-anchor="middle" font-family="Liberation Sans" font-size="12.2" fill="#000">02/04</text>
<text x="352.5" y="798" text-anchor="middle" font-family="Liberation Sans" font-size="12.2" fill="#000">02/07</text>
<text x="400.5" y="798" text-anchor="middle" font-family="Liberation Sans" font-size="12.2" fill="#000">02/10</text>
<text x="448.5" y="798" text-anchor="middle" font-family="Liberation Sans" font-size="12.2" fill="#000">02/13</text>
<text x="496.5" y="798" text-anchor="middle" font-family="Liberation Sans" font-size="12.2" fill="#000">02/16</text>
<text x="544.5" y="798" text-anchor="middle" font-family="Liberation Sans" font-size="12.2" fill="#000">02/19</text>
<path d="M130.30 775.25 L133.50 775.25 L137.70 775.25 L145.50 775.25 L229.20 775.25 L230.40 749.40 L231.00 757.00 L231.70 761.50 L232.50 764.00 L233.80 765.80 L233.80 775.25 L235.00 775.25 L241.50 775.25 L241.80 762.80 L242.50 775.25 L243.50 761.80 L244.20 775.25 L246.00 761.50 L246.50 775.25 L247.50 768.50 L249.00 769.50 L251.00 769.50 L253.00 768.00 L253.50 775.25 L254.00 775.25 L257.00 775.25 L388.50 767.00 L388.50 775.25 L389.00 775.25 L417.00 775.25 L417.50 770.00 L418.50 768.50 L419.00 775.25 L419.50 775.25 L431.50 775.25 L433.00 766.70 L445.50 775.20 L446.30 775.25 L450.80 775.25 L463.00 775.25 L464.00 766.00 L465.00 768.00 L466.50 770.50 L468.50 765.00 L486.50 775.20 L497.00 775.25 L501.00 775.25 L507.00 775.25 L511.30 775.25 L517.00 775.25 L517.50 766.00 L519.00 768.50 L519.50 775.25 L520.50 767.00 L521.00 775.25 L521.50 775.25 L543.30 775.25" stroke="#000" stroke-width="0.6" fill="none"/>
<path d="M130.30 775.25 L133.50 775.25" stroke="#000" stroke-width="3.1" stroke-linecap="round" stroke-linejoin="round" fill="none"/>
<path d="M137.70 775.25 L145.50 775.25" stroke="#000" stroke-width="3.1" stroke-linecap="round" stroke-linejoin="round" fill="none"/>
<path d="M232.50 764.00 L233.80 765.80" stroke="#000" stroke-width="3.1" stroke-linecap="round" stroke-linejoin="round" fill="none"/>
<path d="M235.00 775.25 L241.50 775.25" stroke="#000" stroke-width="3.1" stroke-linecap="round" stroke-linejoin="round" fill="none"/>
<path d="M247.50 768.50 L249.00 769.50 L251.00 769.50 L253.00 768.00" stroke="#000" stroke-width="3.1" stroke-linecap="round" stroke-linejoin="round" fill="none"/>
<path d="M254.00 775.25 L257.00 775.25" stroke="#000" stroke-width="3.1" stroke-linecap="round" stroke-linejoin="round" fill="none"/>
<path d="M389.00 775.25 L417.00 775.25" stroke="#000" stroke-width="3.1" stroke-linecap="round" stroke-linejoin="round" fill="none"/>
<path d="M417.50 770.00 L418.50 768.50" stroke="#000" stroke-width="3.1" stroke-linecap="round" stroke-linejoin="round" fill="none"/>
<path d="M419.50 775.25 L431.50 775.25" stroke="#000" stroke-width="3.1" stroke-linecap="round" stroke-linejoin="round" fill="none"/>
<path d="M464.00 766.00 L465.00 768.00 L466.50 770.50" stroke="#000" stroke-width="3.1" stroke-linecap="round" stroke-linejoin="round" fill="none"/>
<path d="M511.30 775.25 L517.00 775.25" stroke="#000" stroke-width="3.1" stroke-linecap="round" stroke-linejoin="round" fill="none"/>
<path d="M517.50 766.00 L519.00 768.50" stroke="#000" stroke-width="3.1" stroke-linecap="round" stroke-linejoin="round" fill="none"/>
<path d="M521.50 775.25 L543.30 775.25" stroke="#000" stroke-width="3.1" stroke-linecap="round" stroke-linejoin="round" fill="none"/>
<circle cx="229.20" cy="775.25" r="1.5" fill="#000"/><circle cx="230.40" cy="749.40" r="1.5" fill="#000"/><circle cx="231.00" cy="757.00" r="1.5" fill="#000"/><circle cx="231.70" cy="761.50" r="1.5" fill="#000"/><circle cx="233.80" cy="775.25" r="1.5" fill="#000"/><circle cx="241.80" cy="762.80" r="1.5" fill="#000"/><circle cx="242.50" cy="775.25" r="1.5" fill="#000"/><circle cx="243.50" cy="761.80" r="1.5" fill="#000"/><circle cx="244.20" cy="775.25" r="1.5" fill="#000"/><circle cx="246.00" cy="761.50" r="1.5" fill="#000"/><circle cx="246.50" cy="775.25" r="1.5" fill="#000"/><circle cx="253.50" cy="775.25" r="1.5" fill="#000"/><circle cx="388.50" cy="767.00" r="1.5" fill="#000"/><circle cx="388.50" cy="775.25" r="1.5" fill="#000"/><circle cx="419.00" cy="775.25" r="1.5" fill="#000"/><circle cx="433.00" cy="766.70" r="1.5" fill="#000"/><circle cx="445.50" cy="775.20" r="1.5" fill="#000"/><circle cx="446.30" cy="775.25" r="1.5" fill="#000"/><circle cx="450.80" cy="775.25" r="1.5" fill="#000"/><circle cx="463.00" cy="775.25" r="1.5" fill="#000"/><circle cx="468.50" cy="765.00" r="1.5" fill="#000"/><circle cx="486.50" cy="775.20" r="1.5" fill="#000"/><circle cx="497.00" cy="775.25" r="1.5" fill="#000"/><circle cx="501.00" cy="775.25" r="1.5" fill="#000"/><circle cx="507.00" cy="775.25" r="1.5" fill="#000"/><circle cx="519.50" cy="775.25" r="1.5" fill="#000"/><circle cx="520.50" cy="767.00" r="1.5" fill="#000"/><circle cx="521.00" cy="775.25" r="1.5" fill="#000"/>
<path d="M130.30 772.60 L131.50 772.60 L132.50 774.00 L133.50 773.20 L137.70 772.80 L145.50 772.80 L228.50 772.80 L230.00 774.00 L232.00 775.00 L234.00 772.50 L236.00 773.20 L240.00 773.80 L245.00 774.50 L250.00 774.50 L255.70 774.50 L388.80 774.60 L394.00 774.60 L396.50 774.50 L400.00 774.30 L410.00 773.90 L420.00 774.10 L430.50 774.40 L433.00 775.20 L446.30 775.00 L450.80 775.00 L462.50 775.00 L468.50 775.00 L487.00 775.00 L497.00 775.00 L501.00 775.00 L507.00 775.00 L511.30 775.00 L543.30 775.00" stroke="#f00" stroke-width="0.6" fill="none"/>
<path d="M130.30 772.60 L131.50 772.60 L132.50 774.00 L133.50 773.20" stroke="#f00" stroke-width="3.1" stroke-linecap="round" stroke-linejoin="round" fill="none"/>
<path d="M137.70 772.80 L145.50 772.80" stroke="#f00" stroke-width="3.1" stroke-linecap="round" stroke-linejoin="round" fill="none"/>
<path d="M228.50 772.80 L230.00 774.00 L232.00 775.00 L234.00 772.50 L236.00 773.20 L240.00 773.80 L245.00 774.50 L250.00 774.50 L255.70 774.50" stroke="#f00" stroke-width="3.1" stroke-linecap="round" stroke-linejoin="round" fill="none"/>
<path d="M388.80 774.60 L394.00 774.60" stroke="#f00" stroke-width="3.1" stroke-linecap="round" stroke-linejoin="round" fill="none"/>
<path d="M396.50 774.50 L400.00 774.30 L410.00 773.90 L420.00 774.10 L430.50 774.40" stroke="#f00" stroke-width="3.1" stroke-linecap="round" stroke-linejoin="round" fill="none"/>
<path d="M462.50 775.00 L468.50 775.00" stroke="#f00" stroke-width="3.1" stroke-linecap="round" stroke-linejoin="round" fill="none"/>
<path d="M511.30 775.00 L543.30 775.00" stroke="#f00" stroke-width="3.1" stroke-linecap="round" stroke-linejoin="round" fill="none"/>
<circle cx="433.00" cy="775.20" r="1.5" fill="#f00"/><circle cx="446.30" cy="775.00" r="1.5" fill="#f00"/><circle cx="450.80" cy="775.00" r="1.5" fill="#f00"/><circle cx="487.00" cy="775.00" r="1.5" fill="#f00"/><circle cx="497.00" cy="775.00" r="1.5" fill="#f00"/><circle cx="501.00" cy="775.00" r="1.5" fill="#f00"/><circle cx="507.00" cy="775.00" r="1.5" fill="#f00"/>
<rect x="95.5" y="628.7" width="61.7" height="28.2" fill="#fff" stroke="#666" stroke-width="1"/>
<path d="M97 637.85 H111.7" stroke="#000" stroke-width="0.7" stroke-opacity="0.55" fill="none"/>
<circle cx="104.3" cy="637.85" r="1.5" fill="#000"/>
<path d="M97 647.4 H111.7" stroke="#f00" stroke-width="0.9" fill="none"/>
<circle cx="104.3" cy="647.4" r="1.5" fill="#f00"/>
<text transform="translate(119 640.9) scale(1 1.12)" font-family="Liberation Sans" font-size="7.8" fill="#222">Charge</text>
<text transform="translate(119 650.8) scale(1 1.12)" font-family="Liberation Sans" font-size="7.8" fill="#222">Discharge</text>
<path d="M95 975.25 V834.25" stroke="#888" stroke-width="1.2" fill="none"/>
<path d="M90 975.25 H95" stroke="#888" stroke-width="1.2" fill="none"/>
<path d="M90 947.05 H95" stroke="#888" stroke-width="1.2" fill="none"/>
<path d="M90 918.85 H95" stroke="#888" stroke-width="1.2" fill="none"/>
<path d="M90 890.65 H95" stroke="#888" stroke-width="1.2" fill="none"/>
<path d="M90 862.45 H95" stroke="#888" stroke-width="1.2" fill="none"/>
<path d="M90 834.25 H95" stroke="#888" stroke-width="1.2" fill="none"/>
<text transform="translate(84.2 975.85) rotate(-90)" text-anchor="middle" font-family="Liberation Sans" font-size="12.2" fill="#000">0</text>
<text transform="translate(84.2 947.65) rotate(-90)" text-anchor="middle" font-family="Liberation Sans" font-size="12.2" fill="#000">20</text>
<text transform="translate(84.2 919.45) rotate(-90)" text-anchor="middle" font-family="Liberation Sans" font-size="12.2" fill="#000">40</text>
<text transform="translate(84.2 891.25) rotate(-90)" text-anchor="middle" font-family="Liberation Sans" font-size="12.2" fill="#000">60</text>
<text transform="translate(84.2 863.05) rotate(-90)" text-anchor="middle" font-family="Liberation Sans" font-size="12.2" fill="#000">80</text>
<text transform="translate(84.2 834.85) rotate(-90)" text-anchor="middle" font-family="Liberation Sans" font-size="12.2" fill="#000">100</text>
<text transform="translate(68.8 905.15) rotate(-90) scale(1 1.08)" text-anchor="middle" font-family="Liberation Sans" font-size="14.4" fill="#4a4a4a">Carging Ratio (%)</text>
<path d="M112.5 981 H544.5" stroke="#000" stroke-width="1.5" fill="none"/>
<path d="M112.5 981 V985.8M116.5 981 V985.8M120.5 981 V985.8M124.5 981 V985.8M128.5 981 V985.8M132.5 981 V985.8M136.5 981 V985.8M140.5 981 V985.8M144.5 981 V985.8M148.5 981 V985.8M152.5 981 V985.8M156.5 981 V985.8M160.5 981 V985.8M164.5 981 V985.8M168.5 981 V985.8M172.5 981 V985.8M176.5 981 V985.8M180.5 981 V985.8M184.5 981 V985.8M188.5 981 V985.8M192.5 981 V985.8M196.5 981 V985.8M200.5 981 V985.8M204.5 981 V985.8M208.5 981 V985.8M212.5 981 V985.8M216.5 981 V985.8M220.5 981 V985.8M224.5 981 V985.8M228.5 981 V985.8M232.5 981 V985.8M236.5 981 V985.8M240.5 981 V985.8M244.5 981 V985.8M248.5 981 V985.8M252.5 981 V985.8M256.5 981 V985.8M260.5 981 V985.8M264.5 981 V985.8M268.5 981 V985.8M272.5 981 V985.8M276.5 981 V985.8M280.5 981 V985.8M284.5 981 V985.8M288.5 981 V985.8M292.5 981 V985.8M296.5 981 V985.8M300.5 981 V985.8M304.5 981 V985.8M308.5 981 V985.8M312.5 981 V985.8M316.5 981 V985.8M320.5 981 V985.8M324.5 981 V985.8M328.5 981 V985.8M332.5 981 V985.8M336.5 981 V985.8M340.5 981 V985.8M344.5 981 V985.8M348.5 981 V985.8M352.5 981 V985.8M356.5 981 V985.8M360.5 981 V985.8M364.5 981 V985.8M368.5 981 V985.8M372.5 981 V985.8M376.5 981 V985.8M380.5 981 V985.8M384.5 981 V985.8M388.5 981 V985.8M392.5 981 V985.8M396.5 981 V985.8M400.5 981 V985.8M404.5 981 V985.8M408.5 981 V985.8M412.5 981 V985.8M416.5 981 V985.8M420.5 981 V985.8M424.5 981 V985.8M428.5 981 V985.8M432.5 981 V985.8M436.5 981 V985.8M440.5 981 V985.8M444.5 981 V985.8M448.5 981 V985.8M452.5 981 V985.8M456.5 981 V985.8M460.5 981 V985.8M464.5 981 V985.8M468.5 981 V985.8M472.5 981 V985.8M476.5 981 V985.8M480.5 981 V985.8M484.5 981 V985.8M488.5 981 V985.8M492.5 981 V985.8M496.5 981 V985.8M500.5 981 V985.8M504.5 981 V985.8M508.5 981 V985.8M512.5 981 V985.8M516.5 981 V985.8M520.5 981 V985.8M524.5 981 V985.8M528.5 981 V985.8M532.5 981 V985.8M536.5 981 V985.8M540.5 981 V985.8M544.5 981 V985.8" stroke="#000" stroke-width="1" fill="none"/>
<text x="112.5" y="998" text-anchor="middle" font-family="Liberation Sans" font-size="12.2" fill="#000">01/23</text>
<text x="160.5" y="998" text-anchor="middle" font-family="Liberation Sans" font-size="12.2" fill="#000">01/26</text>
<text x="208.5" y="998" text-anchor="middle" font-family="Liberation Sans" font-size="12.2" fill="#000">01/29</text>
<text x="256.5" y="998" text-anchor="middle" font-family="Liberation Sans" font-size="12.2" fill="#000">02/01</text>
<text x="304.5" y="998" text-anchor="middle" font-family="Liberation Sans" font-size="12.2" fill="#000">02/04</text>
<text x="352.5" y="998" text-anchor="middle" font-family="Liberation Sans" font-size="12.2" fill="#000">02/07</text>
<text x="400.5" y="998" text-anchor="middle" font-family="Liberation Sans" font-size="12.2" fill="#000">02/10</text>
<text x="448.5" y="998" text-anchor="middle" font-family="Liberation Sans" font-size="12.2" fill="#000">02/13</text>
<text x="496.5" y="998" text-anchor="middle" font-family="Liberation Sans" font-size="12.2" fill="#000">02/16</text>
<text x="544.5" y="998" text-anchor="middle" font-family="Liberation Sans" font-size="12.2" fill="#000">02/19</text>
<path d="M130.60 975.25 L133.50 975.25 L137.70 975.25 L145.40 975.25 L229.20 975.25 L230.40 887.20 L231.50 834.00 L232.80 834.50 L233.70 965.50 L234.30 975.25 L246.50 975.25 L247.00 970.00 L247.80 867.20 L248.80 834.00 L250.40 874.60 L249.80 943.60 L253.20 945.80 L251.60 956.50 L253.00 975.25 L256.80 975.25 L388.50 969.50 L389.00 975.25 L416.50 975.25 L417.00 962.50 L418.00 951.50 L418.50 941.00 L419.00 975.25 L430.00 975.25 L433.00 834.00 L446.00 975.25 L451.00 975.25 L463.00 975.25 L464.30 964.00 L465.30 834.00 L466.30 834.00 L467.50 941.30 L467.20 953.00 L468.50 972.00 L487.50 975.25 L497.00 975.25 L501.00 975.25 L507.00 975.25 L511.30 975.25 L516.20 975.25 L517.50 938.00 L518.50 834.00 L519.50 886.50 L521.00 952.00 L520.80 975.25 L543.30 975.25" stroke="#000" stroke-width="0.6" fill="none"/>
<path d="M130.60 975.25 L133.50 975.25" stroke="#000" stroke-width="3.1" stroke-linecap="round" stroke-linejoin="round" fill="none"/>
<path d="M137.70 975.25 L145.40 975.25" stroke="#000" stroke-width="3.1" stroke-linecap="round" stroke-linejoin="round" fill="none"/>
<path d="M231.50 834.00 L232.80 834.50" stroke="#000" stroke-width="3.1" stroke-linecap="round" stroke-linejoin="round" fill="none"/>
<path d="M234.30 975.25 L246.50 975.25" stroke="#000" stroke-width="3.1" stroke-linecap="round" stroke-linejoin="round" fill="none"/>
<path d="M253.00 975.25 L256.80 975.25" stroke="#000" stroke-width="3.1" stroke-linecap="round" stroke-linejoin="round" fill="none"/>
<path d="M389.00 975.25 L416.50 975.25" stroke="#000" stroke-width="3.1" stroke-linecap="round" stroke-linejoin="round" fill="none"/>
<path d="M419.00 975.25 L430.00 975.25" stroke="#000" stroke-width="3.1" stroke-linecap="round" stroke-linejoin="round" fill="none"/>
<path d="M446.00 975.25 L451.00 975.25" stroke="#000" stroke-width="3.1" stroke-linecap="round" stroke-linejoin="round" fill="none"/>
<path d="M465.30 834.00 L466.30 834.00" stroke="#000" stroke-width="3.1" stroke-linecap="round" stroke-linejoin="round" fill="none"/>
<path d="M511.30 975.25 L516.20 975.25" stroke="#000" stroke-width="3.1" stroke-linecap="round" stroke-linejoin="round" fill="none"/>
<path d="M520.80 975.25 L543.30 975.25" stroke="#000" stroke-width="3.1" stroke-linecap="round" stroke-linejoin="round" fill="none"/>
<circle cx="229.20" cy="975.25" r="1.5" fill="#000"/><circle cx="230.40" cy="887.20" r="1.5" fill="#000"/><circle cx="233.70" cy="965.50" r="1.5" fill="#000"/><circle cx="247.00" cy="970.00" r="1.5" fill="#000"/><circle cx="247.80" cy="867.20" r="1.5" fill="#000"/><circle cx="248.80" cy="834.00" r="1.5" fill="#000"/><circle cx="250.40" cy="874.60" r="1.5" fill="#000"/><circle cx="249.80" cy="943.60" r="1.5" fill="#000"/><circle cx="253.20" cy="945.80" r="1.5" fill="#000"/><circle cx="251.60" cy="956.50" r="1.5" fill="#000"/><circle cx="388.50" cy="969.50" r="1.5" fill="#000"/><circle cx="417.00" cy="962.50" r="1.5" fill="#000"/><circle cx="418.00" cy="951.50" r="1.5" fill="#000"/><circle cx="418.50" cy="941.00" r="1.5" fill="#000"/><circle cx="433.00" cy="834.00" r="1.5" fill="#000"/><circle cx="463.00" cy="975.25" r="1.5" fill="#000"/><circle cx="464.30" cy="964.00" r="1.5" fill="#000"/><circle cx="467.50" cy="941.30" r="1.5" fill="#000"/><circle cx="467.20" cy="953.00" r="1.5" fill="#000"/><circle cx="468.50" cy="972.00" r="1.5" fill="#000"/><circle cx="487.50" cy="975.25" r="1.5" fill="#000"/><circle cx="497.00" cy="975.25" r="1.5" fill="#000"/><circle cx="501.00" cy="975.25" r="1.5" fill="#000"/><circle cx="507.00" cy="975.25" r="1.5" fill="#000"/><circle cx="517.50" cy="938.00" r="1.5" fill="#000"/><circle cx="518.50" cy="834.00" r="1.5" fill="#000"/><circle cx="519.50" cy="886.50" r="1.5" fill="#000"/><circle cx="521.00" cy="952.00" r="1.5" fill="#000"/>
</svg></body></html>
